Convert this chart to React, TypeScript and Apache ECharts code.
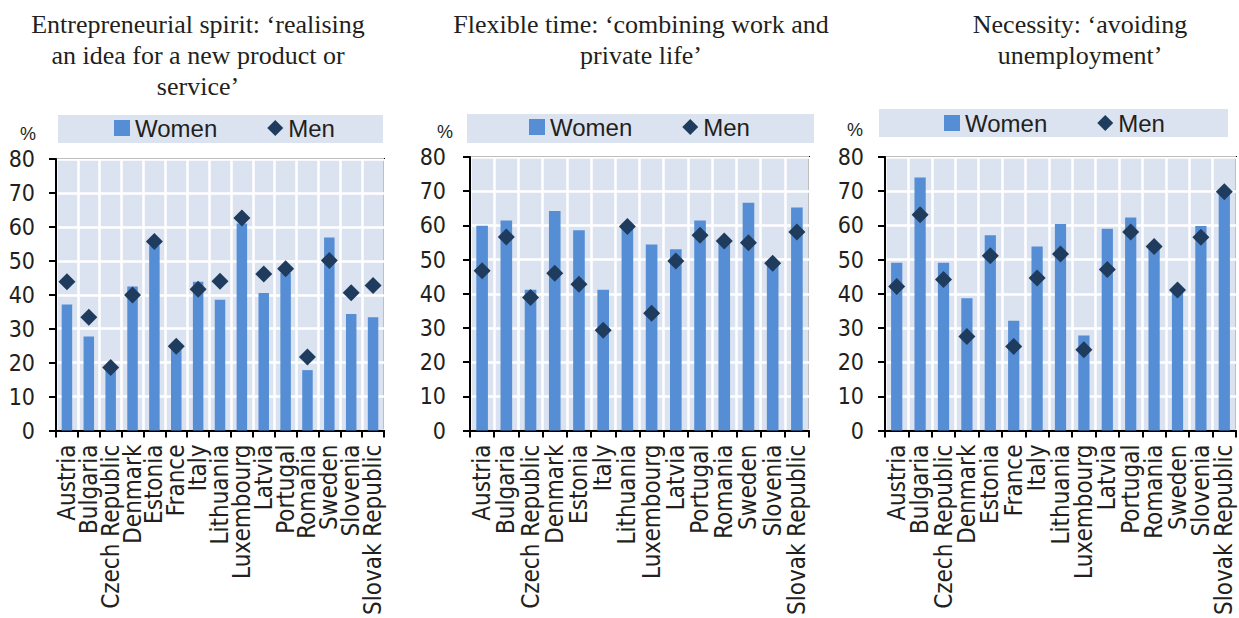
import React, { useEffect, useRef } from 'react';
import * as echarts from 'echarts';

const categories1 = ['Austria', 'Bulgaria', 'Czech Republic', 'Denmark', 'Estonia', 'France', 'Italy', 'Lithuania', 'Luxembourg', 'Latvia', 'Portugal', 'Romania', 'Sweden', 'Slovenia', 'Slovak Republic'];
const women1 = [37.1, 27.7, 18.0, 42.4, 54.5, 24.0, 43.8, 38.5, 61.0, 40.5, 46.5, 17.8, 56.9, 34.3, 33.4];
const men1 = [43.8, 33.4, 18.6, 39.9, 55.7, 24.8, 41.6, 44.0, 62.6, 46.1, 47.7, 21.7, 50.1, 40.6, 42.7];

const categories2 = ['Austria', 'Bulgaria', 'Czech Republic', 'Denmark', 'Estonia', 'Italy', 'Lithuania', 'Luxembourg', 'Latvia', 'Portugal', 'Romania', 'Sweden', 'Slovenia', 'Slovak Republic'];
const women2 = [59.9, 61.4, 41.2, 64.2, 58.6, 41.2, 59.0, 54.4, 53.0, 61.4, 55.0, 66.6, 48.5, 65.2];
const men2 = [46.7, 56.6, 38.9, 46.0, 42.8, 29.3, 59.7, 34.3, 49.6, 57.1, 55.4, 54.9, 48.9, 58.1];

const categories3 = ['Austria', 'Bulgaria', 'Czech Republic', 'Denmark', 'Estonia', 'France', 'Italy', 'Lithuania', 'Luxembourg', 'Latvia', 'Portugal', 'Romania', 'Sweden', 'Slovenia', 'Slovak Republic'];
const women3 = [49.1, 74.0, 49.1, 38.7, 57.1, 32.1, 53.8, 60.4, 27.8, 59.0, 62.3, 53.5, 40.5, 59.8, 69.5];
const men3 = [42.1, 63.1, 44.2, 27.5, 51.1, 24.6, 44.6, 51.6, 23.6, 47.1, 58.1, 53.8, 41.1, 56.5, 69.8];

const titles = [
  'Entrepreneurial spirit: \u2018realising\nan idea for a new product or\nservice\u2019',
  'Flexible time: \u2018combining work and\nprivate life\u2019',
  'Necessity: \u2018avoiding\nunemployment\u2019',
];
const seriesNames = ['Women', 'Men'];
const yTicks = { min: 0, max: 80, interval: 10 };

const BAR = '#558ed5';
const DIAMOND = '#1f3c5e';
const BG = '#dce3f0';
const TXT = '#231f20';
const NARROW = '"Liberation Sans Narrow", "DejaVu Sans Condensed", Arial, sans-serif';
const SANS = '"Liberation Sans", Arial, sans-serif';
const SERIF = '"Liberation Serif", "Times New Roman", serif';

export default function App() {
  const ref = useRef<HTMLDivElement>(null);
  useEffect(() => {
    const chart = echarts.init(ref.current!, null, { renderer: 'svg' });
    const panels = [
      { cats: categories1, women: women1, men: men1, grid: { left: 56, top: 159, width: 328, height: 288 }, title: { x: 198, y: 9 }, legendBox: { x: 58, y: 115, w: 325, h: 28 }, legend: { left: 114, top: 116 }, pct: { x: 28, y: 134 }, labelMargin: 21 },
      { cats: categories2, women: women2, men: men2, grid: { left: 470, top: 157, width: 339, height: 288 }, title: { x: 641, y: 9 }, legendBox: { x: 467, y: 114, w: 347, h: 29 }, legend: { left: 529, top: 115 }, pct: { x: 445, y: 132 }, labelMargin: 24 },
      { cats: categories3, women: women3, men: men3, grid: { left: 885, top: 157, width: 351, height: 286 }, title: { x: 1080, y: 9 }, legendBox: { x: 879, y: 109, w: 349, h: 28 }, legend: { left: 944, top: 111 }, pct: { x: 855, y: 130 }, labelMargin: 21 },
    ];

    const grid: any[] = [];
    const xAxis: any[] = [];
    const yAxis: any[] = [];
    const series: any[] = [];
    const legend: any[] = [];
    const graphic: any[] = [];

    panels.forEach((p, i) => {
      grid.push({ ...p.grid, show: true, backgroundColor: BG, borderColor: '#000', borderWidth: 2, containLabel: false });
      xAxis.push({
        type: 'category', gridIndex: i, data: p.cats, boundaryGap: true,
        axisLine: { show: true, lineStyle: { color: '#000', width: 2 } },
        axisTick: { show: true, length: 7, alignWithLabel: false, lineStyle: { color: '#000', width: 2 } },
        axisLabel: { rotate: 90, interval: 0, fontFamily: NARROW, fontSize: 24, color: TXT, margin: 14 },
        splitLine: { show: true, lineStyle: { color: '#fff', width: 2.5 } },
      });
      yAxis.push({
        type: 'value', gridIndex: i, ...yTicks,
        axisLine: { show: true, lineStyle: { color: '#000', width: 2 } },
        axisTick: { show: true, length: 7, lineStyle: { color: '#000', width: 2 } },
        axisLabel: { fontFamily: NARROW, fontSize: 23, color: TXT, margin: p.labelMargin },
        splitLine: { show: true, lineStyle: { color: '#fff', width: 2.5 } },
      });
      series.push({
        name: seriesNames[0], type: 'bar', xAxisIndex: i, yAxisIndex: i, data: p.women,
        barWidth: '48%', itemStyle: { color: BAR, opacity: 1 }, z: 2,
      });
      series.push({
        name: seriesNames[1], type: 'scatter', xAxisIndex: i, yAxisIndex: i, data: p.men,
        symbol: 'diamond', symbolSize: 17, itemStyle: { color: DIAMOND, opacity: 1 }, z: 3,
      });
      legend.push({
        left: p.legend.left, top: p.legend.top, orient: 'horizontal', padding: 0,
        itemWidth: 16, itemHeight: 16, itemGap: 50, selectedMode: false,
        data: [{ name: 'Women', icon: 'rect' }, { name: 'Men', icon: 'diamond' }],
        itemStyle: { opacity: 1 },
        textStyle: { fontFamily: SANS, fontSize: 24, color: TXT },
      });
      graphic.push({
        type: 'rect', z: 0, shape: { x: p.legendBox.x, y: p.legendBox.y, width: p.legendBox.w, height: p.legendBox.h },
        style: { fill: BG },
      });
      graphic.push({
        type: 'text', x: p.title.x, y: p.title.y, z: 5,
        style: { text: titles[i], font: `26px ${SERIF}`, fill: TXT, textAlign: 'center', textVerticalAlign: 'top', lineHeight: 31 },
      });
      graphic.push({
        type: 'text', x: p.pct.x, y: p.pct.y, z: 5,
        style: { text: '%', font: `18px ${SANS}`, fill: TXT, textAlign: 'center', textVerticalAlign: 'middle' },
      });
    });

    chart.setOption({
      animation: false,
      backgroundColor: '#fff',
      grid, xAxis, yAxis, series, legend, graphic,
    });
    return () => chart.dispose();
  }, []);
  return <div ref={ref} style={{ position: 'fixed', left: 0, top: 0, width: 1239, height: 618, background: '#fff' }} />;
}
